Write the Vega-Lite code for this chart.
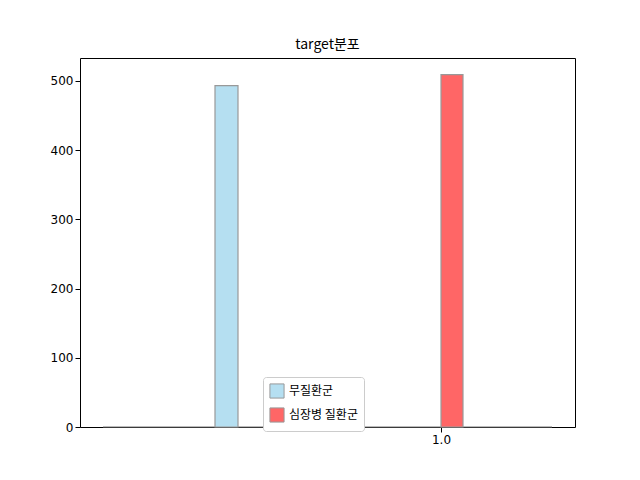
{
  "$schema": "https://vega.github.io/schema/vega-lite/v6.json",
  "width": 495,
  "height": 369,
  "autosize": {"type": "none"},
  "padding": {"left": 80, "top": 58, "right": 65, "bottom": 53},
  "title": {"text": "target분포", "font": "Noto Sans CJK KR", "fontSize": 14, "fontWeight": "normal", "color": "#000", "offset": 6},
  "config": {"view": {"stroke": "#000"}, "font": "Noto Sans CJK KR"},
  "layer": [
    {
      "data": {"values": [{"a": -2.38, "b": 2.11, "y": 0}]},
      "mark": {"type": "rule", "color": "#777", "strokeWidth": 1},
      "encoding": {"x": {"field": "a", "type": "quantitative"}, "x2": {"field": "b"}, "y": {"field": "y", "type": "quantitative"}}
    },
    {
      "data": {"values": [
        {"group": "무질환군", "x0": -1.26, "x1": -1.03, "count": 493},
        {"group": "심장병 질환군", "x0": 1.0, "x1": 1.22, "count": 509}
      ]},
      "mark": {"type": "rect", "stroke": "#999", "strokeWidth": 1.2},
      "encoding": {
        "x": {"field": "x0", "type": "quantitative", "scale": {"domain": [-2.61, 2.34], "nice": false, "zero": false},
              "axis": {"values": [1], "title": null, "grid": false, "labelFontSize": 12, "labelColor": "#000", "tickColor": "#000", "domain": false, "labelFont": "DejaVu Sans"}},
        "x2": {"field": "x1"},
        "y": {"field": "count", "type": "quantitative", "scale": {"domain": [0, 533], "nice": false},
              "axis": {"values": [0, 100, 200, 300, 400, 500], "title": null, "grid": false, "labelFontSize": 12, "labelColor": "#000", "tickColor": "#000", "domain": false, "labelFont": "DejaVu Sans"}},
        "y2": {"datum": 0},
        "color": {"field": "group", "type": "nominal",
          "scale": {"domain": ["무질환군", "심장병 질환군"], "range": ["#b5dff1", "#ff6666"]},
          "legend": {"title": null, "orient": "none", "legendX": 183, "legendY": 319, "symbolType": "square", "symbolSize": 200, "symbolStrokeColor": "#999", "symbolStrokeWidth": 1, "labelFontSize": 12, "labelColor": "#000", "padding": 6, "strokeColor": "#ccc", "fillColor": "white", "cornerRadius": 3, "rowPadding": 4}
        }
      }
    }
  ]
}
